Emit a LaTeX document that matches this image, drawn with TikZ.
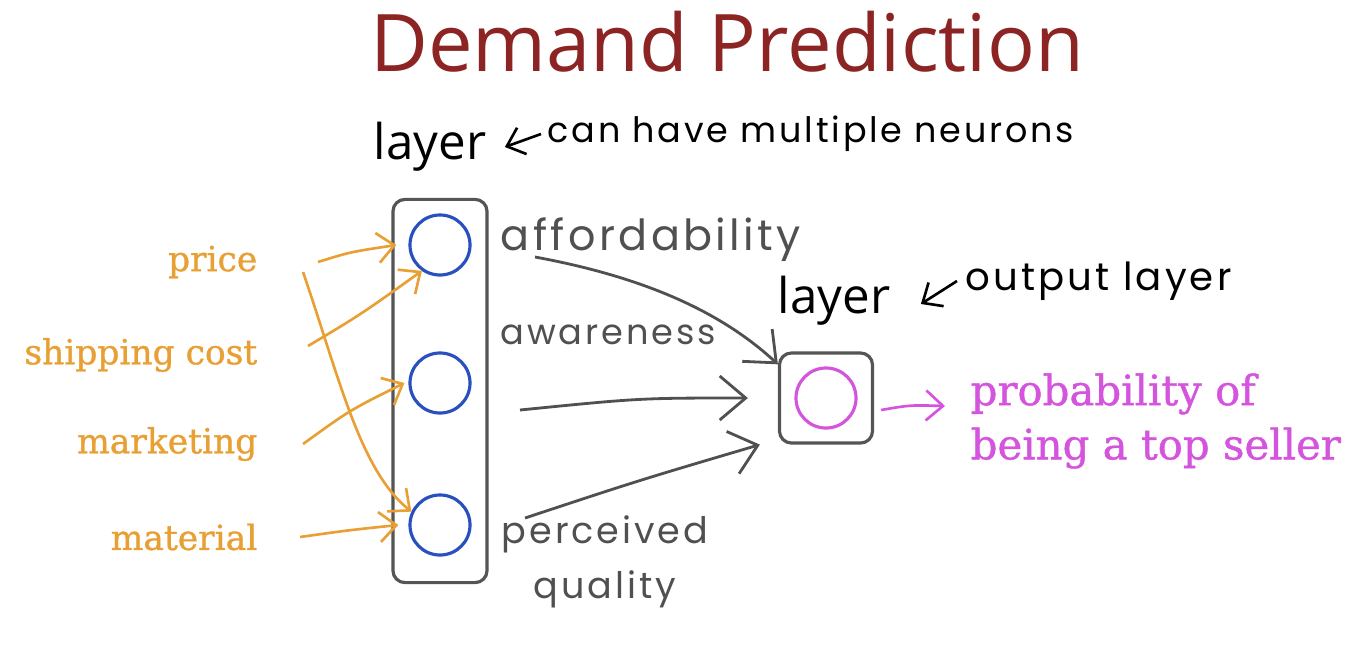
\documentclass[tikz,border=0pt]{standalone}
\usepackage{fontspec}
\newfontfamily\headfont{Open Sans}
\newfontfamily\handfont[LetterSpace=8]{Poppins}
\newfontfamily\labelfont[FakeBold=1]{DejaVu Serif}
\usepackage{tikz}
\usetikzlibrary{arrows.meta, positioning}
\definecolor{titlered}{RGB}{140,36,36}
\definecolor{inorange}{RGB}{232,160,52}
\definecolor{unitblue}{RGB}{40,80,190}
\definecolor{outpink}{RGB}{212,84,222}
\definecolor{pengray}{RGB}{80,80,80}
\definecolor{boxgray}{RGB}{85,85,85}

\begin{document}
\begin{tikzpicture}[x=0.01cm,y=-0.01cm,
    feat/.style={text=inorange,font=\labelfont\fontsize{9.8}{12}\selectfont,anchor=east,inner sep=0pt},
    unit/.style={circle,draw=unitblue,line width=0.9pt,minimum size=0.6cm,inner sep=0pt},
    layerbox/.style={draw=boxgray,line width=0.9pt,rounded corners=3.4pt,inner sep=0pt},
    hand/.style={font=\handfont\fontsize{11}{13}\selectfont,inner sep=0pt},
    inarrow/.style={draw=inorange,line width=0.75pt,-{Straight Barb[length=1.7mm,width=3mm]}},
    penarrow/.style={draw=pengray,line width=0.8pt,-{Straight Barb[length=2.6mm,width=4.4mm]}},
    notearrow/.style={draw=black,line width=0.75pt,-{Straight Barb[length=1.6mm,width=2.8mm]}}]
    \useasboundingbox (0,0) rectangle (1358,651);
    % title and layer captions
    \node[text=titlered,font=\headfont\fontsize{22.6}{26}\selectfont] (title) at (727,42) {Demand Prediction};
    \node[font=\headfont\fontsize{14}{16}\selectfont,inner sep=0pt] (toplayer) at (430,147) {layer};
    \node[hand,font=\handfont\fontsize{9.95}{12}\selectfont,anchor=west] (canann) at (547,134) {can have multiple neurons};
    \node[font=\headfont\fontsize{14}{16}\selectfont,inner sep=0pt] (outlayer) at (834,301) {layer};
    \node[hand,anchor=west] (outnote) at (965,281) {output layer};
    % input features
    \node[feat] (price) at (258,262) {price};
    \node[feat] (shipping) at (258,355) {shipping cost};
    \node[feat] (marketing) at (258,444) {marketing};
    \node[feat] (material) at (258,537) {material};
    % hidden layer
    \node[layerbox,minimum width=0.94cm,minimum height=3.83cm] (hid) at (440,391) {};
    \node[unit] (h1) at (440,245) {};
    \node[unit] (h2) at (440,383) {};
    \node[unit] (h3) at (440,525) {};
    % output layer
    \node[layerbox,minimum width=0.93cm,minimum height=0.9cm] (outbox) at (826,398) {};
    \node[unit,draw=outpink] (o1) at (826,398) {};
    \node[text=outpink,font=\labelfont\fontsize{11.9}{15.4}\selectfont,anchor=west,align=left,inner sep=0pt] (prob) at (970,421) {probability of\\being a top seller};
    % activations
    \node[hand,font=\handfont\fontsize{12.2}{14}\selectfont,text=pengray,anchor=west] (afford) at (500,240) {affordability};
    \node[hand,font=\handfont\fontsize{10}{12}\selectfont,text=pengray,anchor=west] (aware) at (500,335) {awareness};
    \node[hand,font=\handfont\fontsize{10.4}{15.5}\selectfont,text=pengray,align=center] (quality) at (605,562) {perceived\\quality};
    \coordinate (afS) at (535,257);
    \coordinate (awS) at (520,410);
    \coordinate (pqS) at (525,518);
    % inputs to hidden units
    \draw[inarrow] ([xshift=6mm]price.east) .. controls (350,252) .. ([xshift=-1.2mm]h1.west);
    \draw[inarrow] ([xshift=4.5mm,yshift=-1mm]price.east) .. controls (340,380) and (360,470) .. (h3.155);
    \draw[inarrow] ([xshift=5mm,yshift=0.9mm]shipping.east) .. controls (360,315) .. (h1.235);
    \draw[inarrow] ([xshift=4.5mm]marketing.east) .. controls (350,410) .. ([xshift=-0.4mm]h2.west);
    \draw[inarrow] ([xshift=4.2mm]material.east) .. controls (350,530) .. ([xshift=-1mm]h3.west);
    % hidden to output
    \draw[penarrow] (afS) .. controls (660,280) and (730,320) .. (outbox.145);
    \draw[penarrow] (awS) .. controls (640,398) .. ([xshift=-3mm]outbox.west);
    \draw[penarrow] (pqS) .. controls (640,480) .. ([xshift=-1.8mm]outbox.south west);
    \draw[inarrow,draw=outpink] ([xshift=0.7mm,yshift=-1.2mm]outbox.east) .. controls (910,405) .. ([xshift=-2.5mm,yshift=1.5mm]prob.west);
    % notes
    \draw[notearrow] ([xshift=-0.6mm]canann.west) -- ([xshift=1.8mm]toplayer.east);
    \draw[notearrow] ([xshift=-0.8mm]outnote.west) -- ([xshift=3mm,yshift=-0.3mm]outlayer.east);
\end{tikzpicture}
\end{document}
